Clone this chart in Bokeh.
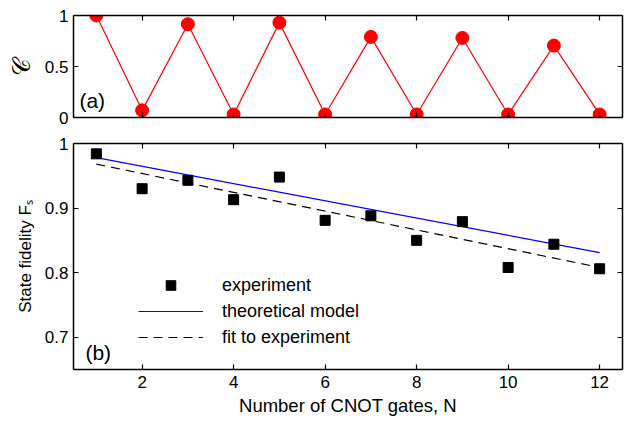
from bokeh.plotting import figure
from bokeh.models import LinearAxis, FixedTicker, Range1d, Legend, LegendItem, Label
from bokeh.layouts import column
from bokeh.embed import file_html
from bokeh.resources import INLINE

# ---- data ----
n_gates = [1, 2, 3, 4, 5, 6, 7, 8, 9, 10, 11, 12]
concurrence = [1.0, 0.07, 0.915, 0.03, 0.93, 0.03, 0.79, 0.03, 0.78, 0.03, 0.705, 0.03]
fidelity_exp = [0.984, 0.930, 0.943, 0.913, 0.948, 0.881, 0.888, 0.850, 0.879, 0.808, 0.844, 0.806]
line_n = [1, 12]
theory_f = [0.978, 0.831]
fit_f = [0.968, 0.808]
x_ticks = [2, 4, 6, 8, 10, 12]
top_y_ticks = [0, 0.5, 1]
top_y_labels = ["0", "0.5", "1"]
bot_y_ticks = [0.7, 0.8, 0.9, 1.0]
bot_y_labels = ["0.7", "0.8", "0.9", "1"]

FONT = "Liberation Sans"


def style_axis(ax, ticks, labels=None, show=True):
    ax.ticker = FixedTicker(ticks=ticks)
    ax.major_tick_in = 5
    ax.major_tick_out = 0
    ax.minor_tick_line_color = None
    ax.axis_line_width = 1.5
    ax.major_tick_line_width = 1.2
    ax.axis_line_color = "black"
    ax.major_tick_line_color = "black"
    ax.major_label_text_font = FONT
    ax.major_label_text_color = "black"
    ax.major_label_text_font_size = "17px"
    ax.axis_label_text_font = FONT
    ax.axis_label_text_font_style = "normal"
    ax.axis_label_text_color = "black"
    if labels is not None:
        ax.major_label_overrides = {t: l for t, l in zip(ticks, labels)}
    if not show:
        ax.major_label_text_font_size = "1px"
        ax.major_label_text_color = None
        ax.major_label_standoff = 0


def make_fig(height, yr, mb_top, mb_bottom):
    p = figure(width=625, height=height, x_range=Range1d(0.5, 12.5), y_range=yr,
               output_backend="svg", toolbar_location=None,
               min_border_left=73, min_border_right=3,
               min_border_top=mb_top, min_border_bottom=mb_bottom)
    p.outline_line_color = None
    p.grid.visible = False
    p.background_fill_color = "white"
    p.border_fill_color = "white"
    return p


# ---- top panel ----
p1 = make_fig(130, Range1d(0, 1), 15, 13)
p1.line(n_gates, concurrence, line_color="#ff0000", line_width=1.2)
p1.scatter(n_gates, concurrence, size=13, fill_color="#ff0000", line_color="#ff0000")
style_axis(p1.xaxis[0], x_ticks, show=False)
style_axis(p1.yaxis[0], top_y_ticks, top_y_labels)
p1.yaxis[0].major_label_standoff = 5
p1.yaxis[0].axis_label = "𝒞"
p1.yaxis[0].axis_label_text_font_size = "24px"
p1.yaxis[0].axis_label_standoff = 7
ax_t = LinearAxis()
style_axis(ax_t, x_ticks, show=False)
p1.add_layout(ax_t, "above")
ax_r = LinearAxis()
style_axis(ax_r, top_y_ticks, show=False)
p1.add_layout(ax_r, "right")
p1.add_layout(Label(x=0.63, y=0.17, text="(a)", text_font=FONT, text_font_size="21px",
                    text_baseline="middle", text_color="black"))

# ---- bottom panel ----
p2 = make_fig(292, Range1d(0.65, 1.0), 13, 53)
r_th = p2.line(line_n, theory_f, line_color="#0000ff", line_width=1.2)
r_fit = p2.line(line_n, fit_f, line_color="black", line_width=1.2, line_dash="9 6")
r_exp = p2.scatter(n_gates, fidelity_exp, marker="square", size=10,
                   fill_color="black", line_color="black")
style_axis(p2.xaxis[0], x_ticks)
p2.xaxis[0].major_label_standoff = 6
p2.xaxis[0].axis_label = "Number of CNOT gates, N"
p2.xaxis[0].axis_label_text_font_size = "18.5px"
p2.xaxis[0].axis_label_standoff = 4
style_axis(p2.yaxis[0], bot_y_ticks, bot_y_labels)
p2.yaxis[0].major_label_standoff = 5
p2.yaxis[0].axis_label = "State fidelity Fₛ"
p2.yaxis[0].axis_label_text_font_size = "17px"
p2.yaxis[0].axis_label_standoff = 7
ax_t2 = LinearAxis()
style_axis(ax_t2, x_ticks, show=False)
p2.add_layout(ax_t2, "above")
ax_r2 = LinearAxis()
style_axis(ax_r2, bot_y_ticks, show=False)
p2.add_layout(ax_r2, "right")

legend = Legend(items=[
    LegendItem(label="experiment", renderers=[r_exp]),
    LegendItem(label="theoretical model", renderers=[r_th]),
    LegendItem(label="fit to experiment", renderers=[r_fit]),
], location=(65, 20), glyph_width=65, glyph_height=24, label_height=22, spacing=2,
    label_standoff=19, padding=10, border_line_color=None, background_fill_alpha=0,
    label_text_font=FONT, label_text_font_size="18px", label_text_color="black")
p2.add_layout(legend)
p2.add_layout(Label(x=0.76, y=0.677, text="(b)", text_font=FONT, text_font_size="21px",
                    text_baseline="middle", text_color="black"))

layout = column(p1, p2, spacing=0)
open("out.html", "w").write(file_html(layout, INLINE))
